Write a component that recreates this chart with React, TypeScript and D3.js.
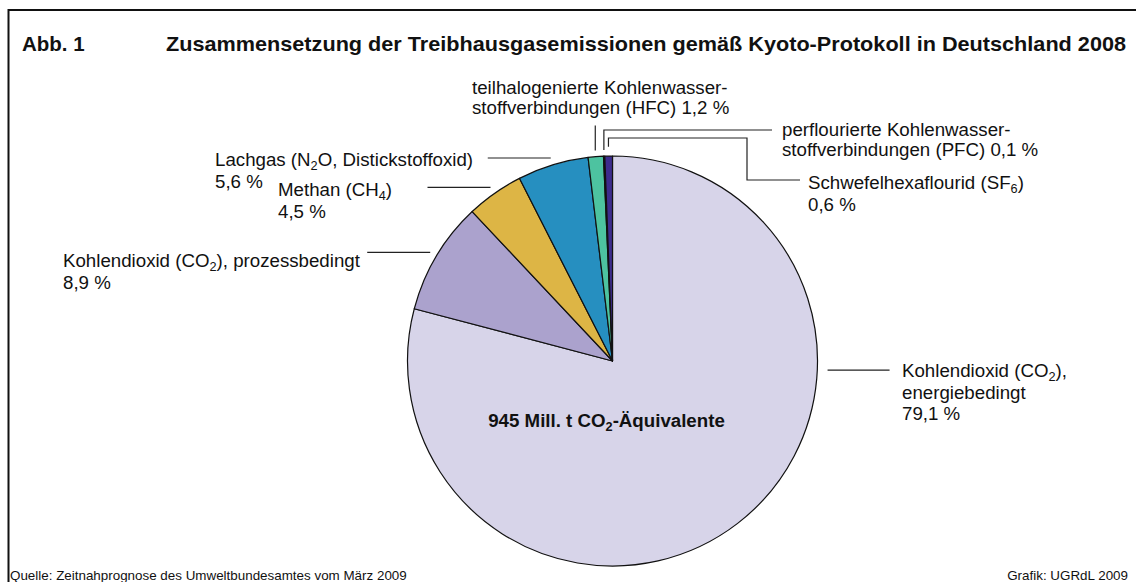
import React from "react";
import * as d3 from "d3";

// ---------- data ----------
const categories = [
  "CO2 energiebedingt",
  "CO2 prozessbedingt",
  "Methan",
  "Lachgas",
  "HFC",
  "PFC",
  "SF6",
];
const values = [79.1, 8.9, 4.5, 5.6, 1.2, 0.1, 0.6];
const labelLines = [
  ["Kohlendioxid (CO_2),", "energiebedingt", "79,1 %"],
  ["Kohlendioxid (CO_2), prozessbedingt", "8,9 %"],
  ["Methan (CH_4)", "4,5 %"],
  ["Lachgas (N_2O, Distickstoffoxid)", "5,6 %"],
  ["teilhalogenierte Kohlenwasser-", "stoffverbindungen (HFC) 1,2 %"],
  ["perflourierte Kohlenwasser-", "stoffverbindungen (PFC) 0,1 %"],
  ["Schwefelhexaflourid (SF_6)", "0,6 %"],
];
const colors = ["#D7D4E9", "#ABA2CD", "#DDB545", "#268FC0", "#4DC3A0", "#2B2B6B", "#3D2C8D"];
const titleAbb = "Abb. 1";
const titleText = "Zusammensetzung der Treibhausgasemissionen gemäß Kyoto-Protokoll in Deutschland 2008";
const centerText = "945 Mill. t CO_2-Äquivalente";
const sourceText = "Quelle: Zeitnahprognose des Umweltbundesamtes vom März 2009";
const creditText = "Grafik: UGRdL 2009";

// ---------- layout ----------
const W = 1136;
const H = 582;
const cx = 612.5;
const cy = 361;
const R = 205;
const FONT = "'Liberation Sans', Arial, sans-serif";
const LABEL_SIZE = 18.7;

function renderRich(s: string, size: number) {
  // "_x" marks a one-char subscript
  const parts: React.ReactNode[] = [];
  let buf = "";
  let k = 0;
  let pendingDy = 0;
  const flush = () => {
    if (buf) {
      parts.push(
        <tspan key={k++} dy={pendingDy || undefined}>
          {buf}
        </tspan>
      );
      pendingDy = 0;
    }
    buf = "";
  };
  for (let i = 0; i < s.length; i++) {
    if (s[i] === "_" && i + 1 < s.length) {
      flush();
      parts.push(
        <tspan key={k++} fontSize={size * 0.68} dy={size * 0.2 + pendingDy}>
          {s[i + 1]}
        </tspan>
      );
      pendingDy = -size * 0.2;
      i++;
    } else buf += s[i];
  }
  flush();
  return parts;
}

export default function App() {
  const pie = d3
    .pie<number>()
    .sort(null)
    .value((d) => d)
    .startAngle(0)
    .endAngle(2 * Math.PI);
  const arcs = pie(values);
  const arc = d3.arc<d3.PieArcDatum<number>>().innerRadius(0).outerRadius(R);

  const pt = (a: number, r: number): [number, number] => [cx + r * Math.sin(a), cy - r * Math.cos(a)];
  const mid = (i: number) => (arcs[i].startAngle + arcs[i].endAngle) / 2;

  // label anchor positions (x, first baseline, line spacing)
  const labelLayout = [
    { x: 902, y: 377, dy: 21.5 },
    { x: 63, y: 267, dy: 21.5 },
    { x: 278, y: 196, dy: 21.5 },
    { x: 215, y: 166, dy: 21.5 },
    { x: 472, y: 94, dy: 20 },
    { x: 782, y: 136, dy: 20 },
    { x: 808, y: 189, dy: 22 },
  ];

  const leaders: string[] = [];
  {
    const a = arcs[0].startAngle + (arcs[0].endAngle - arcs[0].startAngle) * 0.3245;
    const [x, y] = pt(a, R * 1.05);
    leaders.push(d3.line()([[x, y], [x + 62, y]]) as string);
  }
  [1, 2, 3].forEach((i) => {
    const [x, y] = pt(mid(i), R * 1.035);
    leaders.push(d3.line()([[x - 63, y], [x, y]]) as string);
  });
  {
    const [x, y] = pt(mid(4), R * 1.03);
    leaders.push(d3.line()([[x, y], [x, y - 25]]) as string);
  }
  {
    const [x, y] = pt(mid(5), R * 1.03);
    leaders.push(d3.line()([[x, y], [x, 130], [772, 130]]) as string);
  }
  {
    const [x, y] = pt(mid(6), R * 1.045);
    leaders.push(d3.line()([[x, y], [x, 138], [747, 138], [747, 180], [800, 180]]) as string);
  }

  return (
    <svg
      width={W}
      height={H}
      style={{ position: "fixed", left: 0, top: 0, background: "#fff" }}
      fontFamily={FONT}
    >
      <rect x={0} y={0} width={W} height={H} fill="#fff" />
      <path d={`M${W},10 H8.5 V${H}`} fill="none" stroke="#111" strokeWidth={2} />

      <text x={22} y={51} fontSize={20.5} fontWeight="bold" fill="#111">
        {titleAbb}
      </text>
      <text x={166} y={51} fontSize={20.5} fontWeight="bold" fill="#111" textLength={960} lengthAdjust="spacingAndGlyphs">
        {titleText}
      </text>

      <g transform={`translate(${cx},${cy})`}>
        {arcs.map((a, i) => (
          <path key={categories[i]} d={arc(a) as string} fill={colors[i]} stroke="#111" strokeWidth={1.2} strokeLinejoin="round" />
        ))}
      </g>

      <g fill="none" stroke="#222" strokeWidth={1.2}>
        {leaders.map((d, i) => (
          <path key={i} d={d} />
        ))}
      </g>

      <g fontSize={LABEL_SIZE} fill="#111">
        {labelLines.map((lines, i) =>
          lines.map((ln, j) => (
            <text key={i + "-" + j} x={labelLayout[i].x} y={labelLayout[i].y + j * labelLayout[i].dy}>
              {renderRich(ln, LABEL_SIZE)}
            </text>
          ))
        )}
      </g>

      <text x={cx - 6} y={427} textAnchor="middle" fontSize={18.7} fontWeight="bold" fill="#111">
        {renderRich(centerText, 18.7)}
      </text>

      <text x={10} y={580} fontSize={13.4} fill="#111">
        {sourceText}
      </text>
      <text x={1128} y={580} fontSize={13.4} fill="#111" textAnchor="end">
        {creditText}
      </text>
    </svg>
  );
}
